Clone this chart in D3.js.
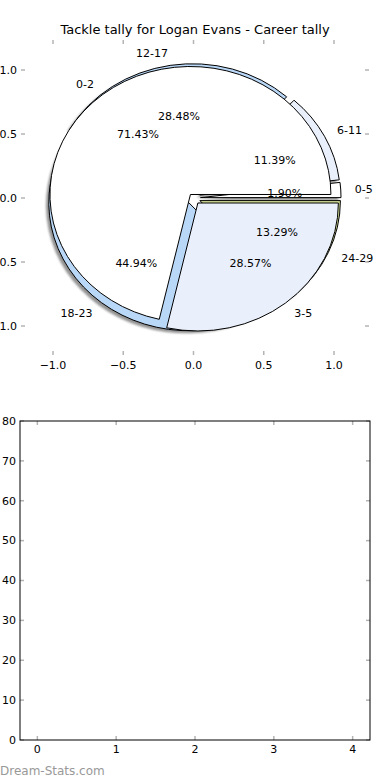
<!DOCTYPE html>
<html>
<head>
<meta charset="utf-8">
<script src="https://cdn.jsdelivr.net/npm/d3@7"></script>
<style>
  body { margin: 0; background: #fff; }
  svg { display: block; font-family: "DejaVu Sans", sans-serif; }
  .tick-line { stroke: #b4b4b4; stroke-width: 1.5; }
</style>
</head>
<body>
<script>
var w = 390
var h = 780

// data
var titleText = "Tackle tally for Logan Evans - Career tally"
var periodLabels = ["0-5", "6-11", "12-17", "18-23", "24-29"]
var periodValues = [1.90, 11.39, 28.48, 44.94, 13.29]
var periodColors = ["#ffffff", "#eaf0fb", "#b9d7f7", "#b9d7f7", "#d6e29a"]
var periodExplode = [0.05, 0.05, 0.05, 0.05, 0.05]

var tallyLabels = ["0-2", "3-5"]
var tallyValues = [71.43, 28.57]
var tallyColors = ["#ffffff", "#eaf0fb"]
var tallyExplode = [0.035, 0.05]

var pieTicks = [-1.0, -0.5, 0.0, 0.5, 1.0]
var barXTicks = [0, 1, 2, 3, 4]
var barYTicks = [0, 10, 20, 30, 40, 50, 60, 70, 80]

var svg = d3.select("body")
  .append("svg")
  .attr("width", w)
  .attr("height", h)

var defs = svg.append("defs")
defs.append("filter")
  .attr("id", "soft")
  .attr("filterUnits", "userSpaceOnUse")
  .attr("x", 0).attr("y", 0)
  .attr("width", w).attr("height", h)
  .append("feGaussianBlur")
  .attr("stdDeviation", 1)

// ---------- top panel : pie axes ----------
var box1 = {left: 21, right: 369, top: 40, bottom: 355}
var x1 = d3.scaleLinear().domain([-1, 1]).range([53, 334])
var y1 = d3.scaleLinear().domain([-1, 1]).range([326, 70])
var sx = x1(1) - x1(0)
var sy = y1(0) - y1(1)

svg.append("text")
  .attr("x", 195)
  .attr("y", 34)
  .attr("text-anchor", "middle")
  .attr("font-size", 13)
  .text(titleText)

var pieLayer = svg.append("g")

var pie = d3.pie().sort(null).startAngle(0).endAngle(2 * Math.PI)

// matplotlib angles run counter clockwise from 3 o'clock
var arc = d3.arc()
  .innerRadius(0)
  .outerRadius(1)
  .startAngle(function(d) { return Math.PI / 2 - d.endAngle })
  .endAngle(function(d) { return Math.PI / 2 - d.startAngle })

function midAngle(d) { return (d.startAngle + d.endAngle) / 2 }

function drawPie(values, labels, colors, explode, shadow) {
  var slices = pie(values)
  slices.forEach(function(d, i) {
    var m = midAngle(d)
    d.ex = explode[i] * Math.cos(m)
    d.ey = explode[i] * Math.sin(m)
    d.label = labels[i]
    d.color = colors[i]
  })

  if (shadow) {
    pieLayer.append("g")
      .attr("filter", "url(#soft)")
      .attr("opacity", 0.55)
      .selectAll("path")
      .data(slices)
      .enter().append("path")
      .attr("d", arc)
      .attr("transform", function(d) {
        return "translate(" + x1(d.ex - 0.02) + "," + y1(d.ey - 0.02) + ") scale(" + sx + "," + sy + ")"
      })
      .attr("fill", "#3a3a3a")
  }

  pieLayer.append("g").selectAll("path")
    .data(slices)
    .enter().append("path")
    .attr("d", arc)
    .attr("transform", function(d) {
      return "translate(" + x1(d.ex) + "," + y1(d.ey) + ") scale(" + sx + "," + sy + ")"
    })
    .attr("fill", function(d) { return d.color })
    .attr("stroke", "#000")
    .attr("stroke-width", 1)
    .attr("vector-effect", "non-scaling-stroke")

  return slices
}

var periodSlices = drawPie(periodValues, periodLabels, periodColors, periodExplode, true)
var tallySlices = drawPie(tallyValues, tallyLabels, tallyColors, tallyExplode, false)

var textLayer = svg.append("g").attr("font-size", 11).attr("fill", "#000")

function drawPieText(slices) {
  slices.forEach(function(d) {
    var m = midAngle(d)
    var lx = d.ex + 1.1 * Math.cos(m)
    var ly = d.ey + 1.1 * Math.sin(m)
    textLayer.append("text")
      .attr("x", x1(lx))
      .attr("y", y1(ly))
      .attr("dy", "0.35em")
      .attr("text-anchor", lx > 0 ? "start" : "end")
      .text(d.label)
    textLayer.append("text")
      .attr("x", x1(d.ex + 0.6 * Math.cos(m)))
      .attr("y", y1(d.ey + 0.6 * Math.sin(m)))
      .attr("dy", "0.35em")
      .attr("text-anchor", "middle")
      .text(d3.format(".2f")(d.value) + "%")
  })
}
drawPieText(periodSlices)
drawPieText(tallySlices)

// ticks of the pie axes (frame hidden, ticks kept)
var t1 = svg.append("g")
pieTicks.forEach(function(v) {
  t1.append("line").attr("class", "tick-line")
    .attr("x1", x1(v)).attr("x2", x1(v)).attr("y1", box1.top).attr("y2", box1.top + 4)
  t1.append("line").attr("class", "tick-line")
    .attr("x1", x1(v)).attr("x2", x1(v)).attr("y1", box1.bottom).attr("y2", box1.bottom - 4)
  t1.append("line").attr("class", "tick-line")
    .attr("x1", box1.left).attr("x2", box1.left + 4).attr("y1", y1(v)).attr("y2", y1(v))
  t1.append("line").attr("class", "tick-line")
    .attr("x1", box1.right).attr("x2", box1.right - 4).attr("y1", y1(v)).attr("y2", y1(v))
  t1.append("text")
    .attr("x", x1(v)).attr("y", box1.bottom + 14)
    .attr("text-anchor", "middle").attr("font-size", 11)
    .text(d3.format(".1f")(v).replace("-", "\u2212"))
  t1.append("text")
    .attr("x", box1.left - 4).attr("y", y1(v)).attr("dy", "0.35em")
    .attr("text-anchor", "end").attr("font-size", 11)
    .text(d3.format(".1f")(v).replace("-", "\u2212"))
})

// ---------- bottom panel : empty axes ----------
var box2 = {left: 20, right: 370, top: 421, bottom: 740}
var x2 = d3.scaleLinear().domain([-0.22, 4.22]).range([box2.left, box2.right])
var y2 = d3.scaleLinear().domain([0, 80]).range([box2.bottom, box2.top])

var t2 = svg.append("g")
barXTicks.forEach(function(v) {
  t2.append("line").attr("class", "tick-line")
    .attr("x1", x2(v)).attr("x2", x2(v)).attr("y1", box2.top).attr("y2", box2.top + 4)
  t2.append("line").attr("class", "tick-line")
    .attr("x1", x2(v)).attr("x2", x2(v)).attr("y1", box2.bottom).attr("y2", box2.bottom - 4)
  t2.append("text")
    .attr("x", x2(v)).attr("y", box2.bottom + 13)
    .attr("text-anchor", "middle").attr("font-size", 11)
    .text(v)
})
barYTicks.forEach(function(v) {
  t2.append("line").attr("class", "tick-line")
    .attr("x1", box2.left).attr("x2", box2.left + 4).attr("y1", y2(v)).attr("y2", y2(v))
  t2.append("line").attr("class", "tick-line")
    .attr("x1", box2.right).attr("x2", box2.right - 4).attr("y1", y2(v)).attr("y2", y2(v))
  t2.append("text")
    .attr("x", box2.left - 4).attr("y", y2(v)).attr("dy", "0.35em")
    .attr("text-anchor", "end").attr("font-size", 11)
    .text(v)
})

svg.append("rect")
  .attr("x", box2.left)
  .attr("y", box2.top)
  .attr("width", box2.right - box2.left)
  .attr("height", box2.bottom - box2.top)
  .attr("fill", "none")
  .attr("stroke", "#000")
  .attr("stroke-width", 1)

svg.append("text")
  .attr("x", 0)
  .attr("y", 775)
  .attr("font-size", 12)
  .attr("fill", "#999999")
  .text("Dream-Stats.com")
</script>
</body>
</html>
